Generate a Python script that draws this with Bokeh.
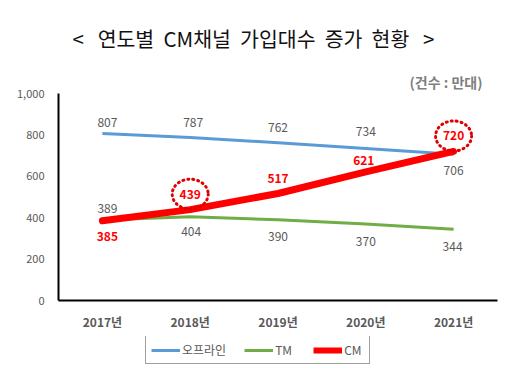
from bokeh.plotting import figure
from bokeh.layouts import column
from bokeh.models import (Range1d, FixedTicker, NumeralTickFormatter, Title,
                          ColumnDataSource, Legend, LegendItem)
from bokeh.core.properties import value
from bokeh.embed import file_html
from bokeh.resources import INLINE

years = ["2017년", "2018년", "2019년", "2020년", "2021년"]
offline = [807, 787, 762, 734, 706]
tm = [389, 404, 390, 370, 344]
cm = [385, 439, 517, 621, 720]
series_names = ["오프라인", "TM", "CM"]
highlight = [1, 4]  # CM points circled
NB = "\u00a0"
title_words = ["<", "연도별", "CM채널", "가입대수", "증가", "현황", ">"]
title_text = title_words[0] + NB * 3 + (NB * 2).join(title_words[1:-1]) + NB * 3 + title_words[-1]
unit_text = "(건수 : 만대)"
y_ticks = [0, 200, 400, 600, 800, 1000]

FONT = "Noto Sans CJK KR"
GRAY = "#595959"
BLUE, GREEN, RED = "#5B9BD5", "#70AD47", "#FF0000"
x = list(range(len(years)))

p = figure(frame_width=439, frame_height=207, output_backend="svg", toolbar_location=None,
           x_range=Range1d(-0.5, 4.5), y_range=Range1d(0, 1000),
           min_border_left=58, min_border_right=15, min_border_top=93,
           min_border_bottom=36)
p.outline_line_color = None
p.xgrid.visible = False
p.ygrid.visible = False
p.background_fill_color = "white"
p.border_fill_color = "white"

# axes
p.yaxis.ticker = FixedTicker(ticks=y_ticks)
p.yaxis.formatter = NumeralTickFormatter(format="0,0")
p.xaxis.ticker = FixedTicker(ticks=x)
p.xaxis.major_label_overrides = {i: y for i, y in enumerate(years)}
for ax in (p.xaxis, p.yaxis):
    ax.axis_line_color = "black"
    ax.axis_line_width = 2
    ax.major_tick_line_color = None
    ax.minor_tick_line_color = None
    ax.major_label_text_color = GRAY
    ax.major_label_text_font = FONT
    ax.major_label_text_font_size = "11px"
p.yaxis.major_label_standoff = 8
p.xaxis.major_label_standoff = 6
p.xaxis.major_label_text_font_size = "12px"
p.xaxis.major_label_text_font_style = "bold"

# lines
p.line(x, offline, line_color=BLUE, line_width=3)
p.line(x, tm, line_color=GREEN, line_width=3)
p.line(x, cm, line_color=RED, line_width=7, line_cap="round", line_join="round")

px = 1000 / 207.0  # data units per pixel (vertical)

def add_labels(vals, dx, dy, color, style):
    src = ColumnDataSource(dict(x=x, y=vals, t=[str(v) for v in vals], dx=dx, dy=dy))
    p.text(x="x", y="y", text="t", x_offset="dx", y_offset="dy", source=src,
           text_color=color, text_font=value(FONT), text_font_size="12px",
           text_font_style=style, text_align="center", text_baseline="middle")

add_labels(offline, [5, 3, 0, 0, 0], [-11, -15, -15, -17, 16], GRAY, "normal")
add_labels(tm, [5, 1, 0, 0, -1], [-11, 15, 17, 18, 17], GRAY, "normal")
add_labels(cm, [5, 0, 0, -2, 0], [16, -15, -15, -11, -16], RED, "bold")

# dotted circles
ex = [x[i] for i in highlight]
ey = [cm[i] + 15.5 * px for i in highlight]
p.ellipse(x=ex, y=ey, width=36, height=30, width_units="screen", height_units="screen",
          fill_color=None, line_color="#E00000", line_width=3, line_dash="1 4", line_cap="round")

# title and unit
p.add_layout(Title(text=unit_text, align="right", offset=15, standoff=3,
                   text_font=FONT, text_font_size="14px", text_font_style="bold",
                   text_color="#7F7F7F"), "above")
p.add_layout(Title(text=title_text, align="left", offset=14, standoff=31,
                   text_font=FONT, text_font_size="20.5px", text_font_style="normal",
                   text_color="#111111"), "above")

# legend strip below the chart (its lines lie outside its ranges; only the legend shows)
p2 = figure(width=512, height=43, output_backend="svg", toolbar_location=None,
            x_range=Range1d(-0.5, 4.5), y_range=Range1d(-20, -10),
            x_axis_location=None, y_axis_location=None,
            min_border_left=0, min_border_right=0, min_border_top=0, min_border_bottom=0)
p2.outline_line_color = None
p2.xgrid.visible = False
p2.ygrid.visible = False
l1 = p2.line(x, offline, line_color=BLUE, line_width=3)
l2 = p2.line(x, tm, line_color=GREEN, line_width=3)
l3 = p2.line(x, cm, line_color=RED, line_width=6)
legend = Legend(items=[LegendItem(label=series_names[0], renderers=[l1]),
                       LegendItem(label=series_names[1], renderers=[l2]),
                       LegendItem(label=series_names[2], renderers=[l3])],
                orientation="horizontal", location=(87, 15),
                label_text_font=FONT, label_text_font_size="12px", label_text_color=GRAY,
                border_line_color="#404040", border_line_width=1,
                glyph_width=29, glyph_height=12, label_standoff=2, spacing=18,
                padding=5, margin=0, label_height=12)
p2.add_layout(legend, "center")

open("out.html", "w").write(file_html(column(p, p2, spacing=0), INLINE))
